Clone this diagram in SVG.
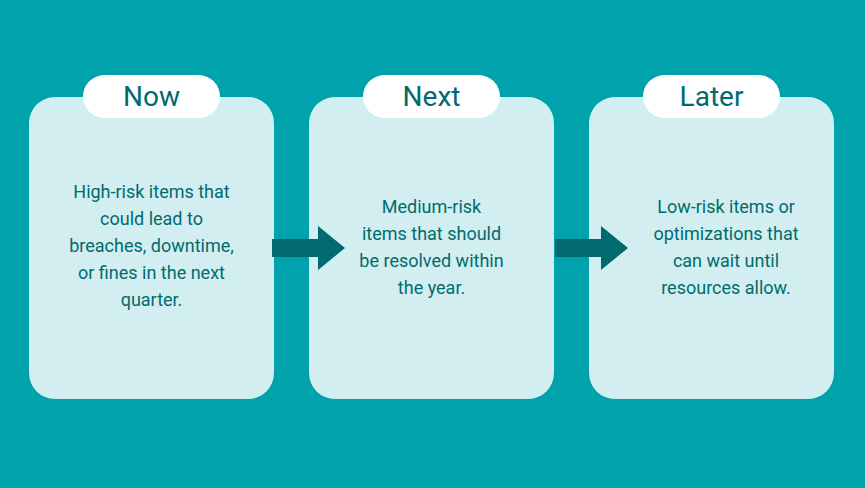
<svg xmlns="http://www.w3.org/2000/svg" width="865" height="488" viewBox="0 0 865 488">
<style>
.card{fill:#D2EEF0}
.pill{fill:#FFFFFF}
.t{font-family:Roboto,"Liberation Sans",sans-serif;fill:#006B6E;text-anchor:middle}
.h{font-size:28px}
.b{font-size:18px}
.ar{fill:#006A6E}
</style>
<rect width="865" height="488" fill="#00A3AB"/>
<g id="now">
<rect class="card" x="29" y="97" width="245" height="302" rx="26"/>
<rect class="pill" x="83" y="75" width="137" height="43" rx="21.5"/>
<text class="t h" x="151.5" y="106">Now</text>
<text class="t b" x="151.5" y="198">High-risk items that<tspan x="151.5" dy="27">could lead to</tspan><tspan x="151.5" dy="27">breaches, downtime,</tspan><tspan x="151.5" dy="27">or fines in the next</tspan><tspan x="151.5" dy="27">quarter.</tspan></text>
</g>
<g id="next">
<rect class="card" x="309" y="97" width="245" height="302" rx="26"/>
<rect class="pill" x="363" y="75" width="137" height="43" rx="21.5"/>
<text class="t h" x="431.5" y="106">Next</text>
<text class="t b" x="431.5" y="213">Medium-risk<tspan x="431.5" dy="27">items that should</tspan><tspan x="431.5" dy="27">be resolved within</tspan><tspan x="431.5" dy="27">the year.</tspan></text>
</g>
<g id="later">
<rect class="card" x="589" y="97" width="245" height="302" rx="26"/>
<rect class="pill" x="643" y="75" width="137" height="43" rx="21.5"/>
<text class="t h" x="711.5" y="106">Later</text>
<text class="t b" x="726" y="213">Low-risk items or<tspan x="726" dy="27">optimizations that</tspan><tspan x="726" dy="27">can wait until</tspan><tspan x="726" dy="27">resources allow.</tspan></text>
</g>
<g id="connectors">
<polygon class="ar" points="272,239 318,239 318,226 345,248 318,270 318,257 272,257"/>
<polygon class="ar" points="555,239 601,239 601,226 628,248 601,270 601,257 555,257"/>
</g>
</svg>
